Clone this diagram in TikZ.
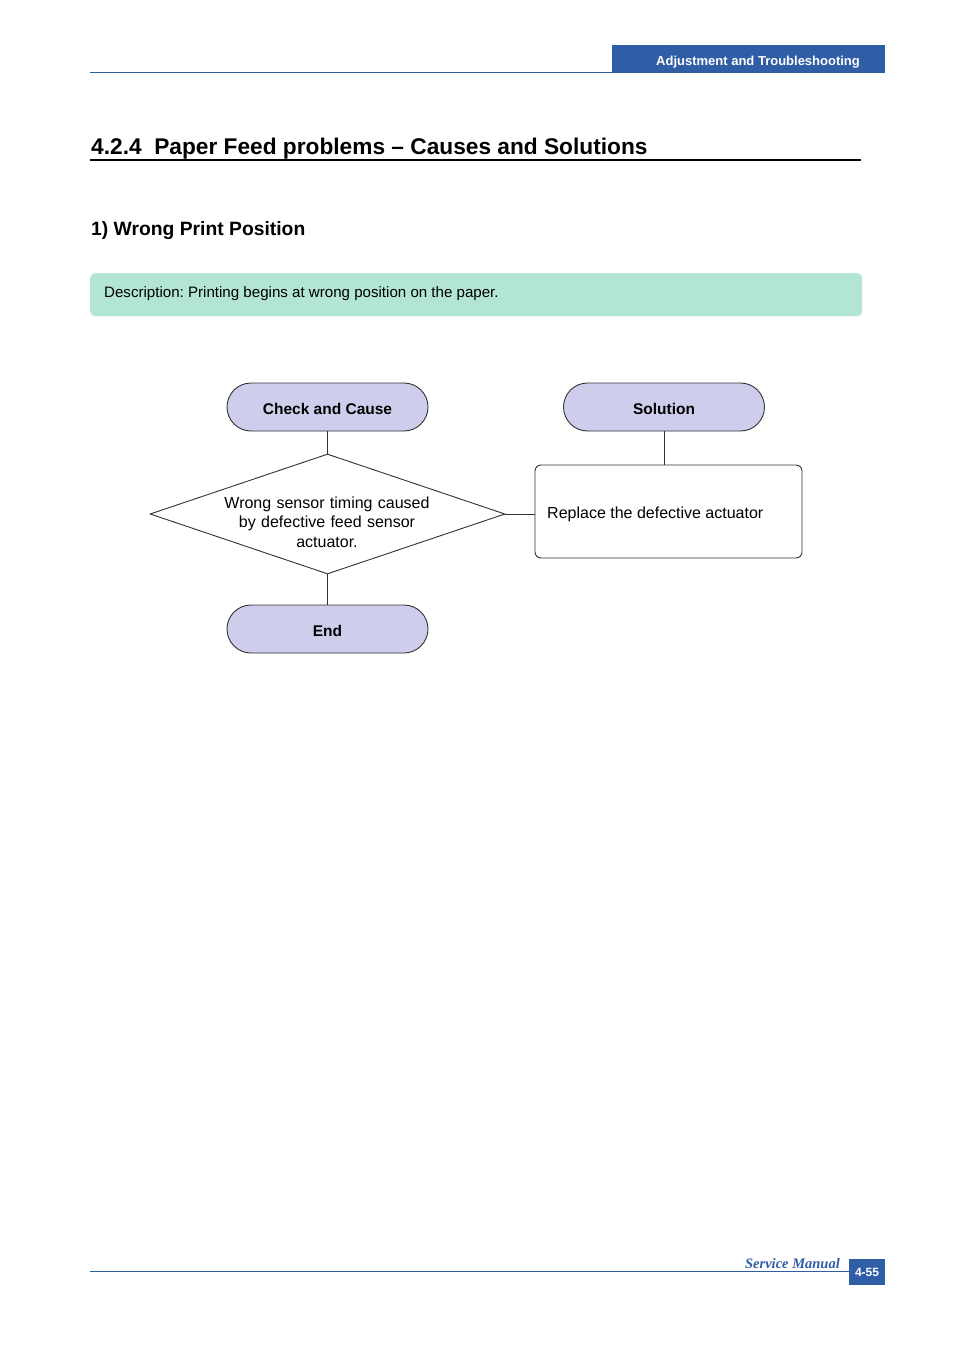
\documentclass[tikz,border=0pt]{standalone}
\usepackage{fontspec}
\setmainfont{Liberation Sans}
\newfontfamily\serifbi{Liberation Serif}
\usetikzlibrary{shapes.geometric}
\definecolor{hdrblue}{HTML}{2F5DA6}
\definecolor{lav}{HTML}{CFCDEC}
\definecolor{mint}{HTML}{B2E5D5}
\definecolor{lnc}{HTML}{333333}
\frenchspacing
\begin{document}
\begin{tikzpicture}[x=1pt,y=-1pt,
  term/.style={draw=lnc, line width=0.9pt, fill=lav, rounded corners=24pt, minimum width=201pt, minimum height=48pt, inner sep=0pt, text height=14.5pt, text depth=0pt, font=\fontsize{15.5}{18}\selectfont\bfseries},
  procbox/.style={draw=lnc, line width=0.9pt, rounded corners=6pt, minimum width=267pt, minimum height=93pt, inner sep=0pt},
  conn/.style={draw=lnc, line width=0.9pt},
  body/.style={font=\fontsize{16}{19.5}\selectfont, inner sep=0pt}]
\useasboundingbox (0,0) rectangle (954,1351);
\fill[white] (0,0) rectangle (954,1351);
% header
\draw[hdrblue, line width=0.8pt] (90,72) -- (612,72);
\node[fill=hdrblue, minimum width=273pt, minimum height=28pt, inner sep=0pt, anchor=north west] (hdr) at (612,45) {};
\node[text=white, font=\fontsize{13}{15}\selectfont\bfseries, inner sep=0pt, text depth=0pt] (hdrt) at (758,61) {Adjustment and Troubleshooting};
% title
\node[anchor=base west, font=\fontsize{22.7}{26}\selectfont\bfseries, inner sep=0pt] (title) at (91,155) {4.2.4\ \ Paper Feed problems -- Causes and Solutions};
\draw[black, line width=2pt] (90,160) -- (861,160);
\node[anchor=base west, font=\fontsize{19.3}{22}\selectfont\bfseries, inner sep=0pt] (sub) at (91,235) {1) Wrong Print Position};
% description
\node[fill=mint, rounded corners=5pt, minimum width=772pt, minimum height=43pt, anchor=north west, inner sep=0pt] (desc) at (90,273) {};
\node[anchor=west, font=\fontsize{15.1}{18}\selectfont, inner sep=0pt, text depth=0pt] (desct) at (104,292) {Description: Printing begins at wrong position on the paper.};
% flowchart
\node[term] (cc) at (327.5,407) {Check and Cause};
\node[term] (sol) at (664,407) {Solution};
\node[draw=lnc, line width=0.9pt, diamond, minimum width=355pt, minimum height=120pt, inner sep=0pt] (dia) at (327.5,514) {};
\node[body, align=center, text width=240pt] (diat) at (327,522) {Wrong sensor timing caused\\by defective feed sensor\\actuator.};
\node[procbox] (box) at (668.5,511.5) {};
\node[body, anchor=west, text depth=0pt] (boxt) at (547,513) {Replace the defective actuator};
\node[term] (end) at (327.5,629) {End};
\draw[conn] (cc.south) -- (dia.north);
\draw[conn] (dia.south) -- (end.north);
\draw[conn] (sol.south) -- (sol.south |- box.north);
\draw[conn] (dia.east) -- (dia.east -| box.west);
% footer
\draw[hdrblue, line width=0.8pt] (90,1271) -- (849,1271);
\node[anchor=base east, text=hdrblue, font=\serifbi\fontsize{14.5}{16}\selectfont\bfseries\itshape, inner sep=0pt] (sm) at (840,1268) {Service Manual};
\node[fill=hdrblue, minimum width=36pt, minimum height=26pt, inner sep=0pt, anchor=north west] (pg) at (849,1259) {};
\node[text=white, font=\fontsize{12}{14}\selectfont\bfseries, inner sep=0pt, text depth=0pt] (pgt) at (867,1272) {4-55};
\end{tikzpicture}
\end{document}
